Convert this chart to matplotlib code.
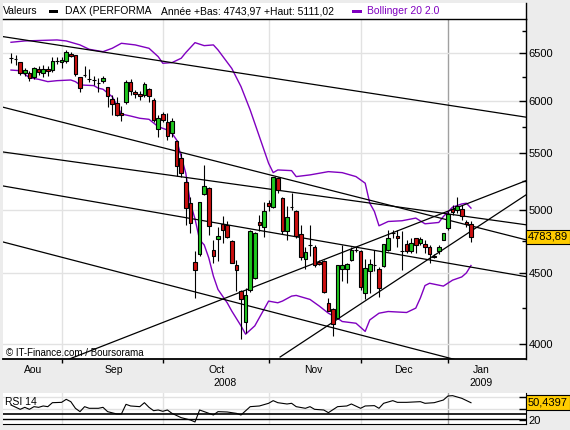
import matplotlib
matplotlib.use("Agg")
import matplotlib.pyplot as plt
from matplotlib.patches import Rectangle
from matplotlib.lines import Line2D
from matplotlib.ticker import NullFormatter
from matplotlib.transforms import blended_transform_factory

plt.rcParams['font.family'] = ['Liberation Sans', 'DejaVu Sans']

# Daily candles, trading day index 0 = 15 Aug 2008 ... 100 = 9 Jan 2009
opens = [6453, 6435, 6403, 6290, 6286, 6244, 6326, 6286, 6334, 6320,
         6417, 6403, 6414, 6496, 6482, 6244, 6265, 6226, 6216, 6188,
         6205, 6141, 6022, 5978, 5880, 5989, 6192, 6094, 6070, 6062,
         6121, 6015, 5725, 5870, 5792, 5687, 5615, 5454, 5240, 5060,
         4588, 4648, 5137, 5188, 4682, 4765, 4889, 4881, 4752, 4567,
         4369, 4150, 4375, 4467, 4903, 4862, 5065, 5027, 5275, 5103,
         4827, 5032, 4991, 4805, 4613, 4720, 4707, 4587, 4597, 4285,
         4238, 4180, 4534, 4534, 4605, 4682, 4669, 4357, 4516, 4567,
         4534, 4559, 4682, 4813, 4792, 4669, 4726, 4674, 4773, 4733,
         4726, 4700, 4635, 4669, 4760, 4854, 5013, 5005, 5011, 4903,
         4889]
highs = [6507, 6482, 6410, 6337, 6308, 6348, 6363, 6374, 6363, 6463,
         6463, 6463, 6536, 6518, 6482, 6248, 6363, 6326, 6255, 6234,
         6255, 6148, 6062, 6045, 5952, 6216, 6226, 6114, 6103, 6199,
         6131, 6029, 5863, 5896, 5880, 5831, 5624, 5500, 5290, 5117,
         4669, 5074, 5397, 5202, 4760, 4867, 4949, 4908, 4760, 4605,
         4381, 4393, 4840, 4820, 4963, 5068, 5088, 5290, 5284, 5110,
         5037, 5145, 4999, 4881, 4707, 4881, 4720, 4600, 4605, 4321,
         4250, 4567, 4720, 4580, 4707, 4707, 4682, 4613, 4613, 4682,
         4549, 4726, 4841, 4841, 4841, 4827, 4760, 4773, 4778, 4781,
         4760, 4720, 4650, 4720, 4813, 4991, 5046, 5111, 5046, 4922,
         4908]
lows = [6392, 6374, 6265, 6255, 6208, 6223, 6265, 6244, 6255, 6301,
        6381, 6337, 6399, 6463, 6255, 6097, 6244, 6199, 6165, 6097,
        6182, 5940, 5863, 5853, 5808, 5972, 6062, 6029, 6015, 6045,
        5996, 5798, 5655, 5798, 5624, 5655, 5294, 5290, 4881, 4813,
        4321, 4635, 5131, 4800, 4580, 4592, 4733, 4773, 4580, 4369,
        4031, 4076, 4365, 4460, 4827, 4780, 4991, 5020, 5145, 4810,
        4760, 5005, 4773, 4605, 4532, 4630, 4549, 4565, 4357, 4226,
        4053, 4170, 4442, 4430, 4592, 4661, 4381, 4309, 4357, 4516,
        4330, 4550, 4669, 4773, 4707, 4529, 4656, 4656, 4656, 4720,
        4656, 4580, 4618, 4650, 4755, 4841, 4963, 4976, 4922, 4862,
        4744]
closes = [6453, 6435, 6286, 6316, 6234, 6337, 6295, 6334, 6313, 6420,
          6417, 6425, 6518, 6474, 6276, 6131, 6265, 6226, 6216, 6188,
          6234, 6055, 5972, 5863, 5860, 6192, 6107, 6073, 6052, 6172,
          6055, 5815, 5831, 5815, 5662, 5805, 5387, 5325, 5016, 4894,
          4524, 5068, 5208, 4873, 4630, 4792, 4835, 4786, 4580, 4529,
          4309, 4340, 4833, 4813, 4881, 4997, 5037, 5290, 5174, 4827,
          4941, 5032, 4792, 4625, 4661, 4720, 4567, 4572, 4361, 4226,
          4134, 4567, 4567, 4572, 4676, 4682, 4401, 4542, 4572, 4567,
          4393, 4726, 4778, 4813, 4773, 4669, 4669, 4733, 4720, 4768,
          4703, 4648, 4628, 4707, 4813, 4968, 4986, 5037, 4957, 4889,
          4783.89]

# Bollinger 20 2.0 bands (day index, level)
bb_up_idx = [0, 3, 10, 12, 15, 17, 20, 22, 24, 27, 30, 32, 33, 35, 37, 38,
             40, 42, 44, 45, 48, 50, 52, 54, 56, 57, 58, 61, 62, 65, 69, 72,
             75, 77, 78, 79, 80, 82, 85, 88, 90, 93, 94, 96, 98, 99, 100]
bb_up_val = [6620, 6635, 6646, 6635, 6591, 6543, 6517, 6554, 6609, 6591,
             6554, 6463, 6392, 6399, 6446, 6507, 6616, 6583, 6591, 6536,
             6337, 6148, 5912, 5655, 5409, 5325, 5349, 5343, 5290, 5305,
             5334, 5325, 5290, 5232, 5060, 4991, 4873, 4908, 4914, 4936,
             4889, 4900, 4949, 5027, 5054, 5060, 5019]
bb_lo_idx = [0, 2, 3, 4, 6, 8, 10, 13, 14, 15, 18, 19, 20, 22, 23, 24, 26,
             28, 30, 32, 34, 35, 36, 37, 38, 39, 40, 41, 42, 43, 44, 45, 47,
             48, 50, 51, 53, 55, 56, 58, 59, 61, 62, 65, 67, 69, 71, 72, 75,
             77, 78, 80, 82, 86, 88, 89, 90, 91, 94, 96, 98, 99, 100]
bb_lo_val = [6320, 6313, 6276, 6240, 6223, 6199, 6209, 6216, 6199, 6165,
             6158, 6131, 6121, 6045, 5962, 5873, 5853, 5831, 5821, 5750,
             5718, 5687, 5624, 5470, 5320, 5060, 4930, 4760, 4720, 4618,
             4480, 4381, 4285, 4226, 4123, 4066, 4123, 4238, 4297, 4285,
             4297, 4333, 4338, 4309, 4262, 4211, 4176, 4153, 4141, 4085,
             4164, 4211, 4223, 4216, 4247, 4320, 4410, 4427, 4406, 4450,
             4474, 4504, 4560]

# Trend lines: start (index, level) -> end (index, level)
tl_x0 = [-1.74, -1.74, -1.74, -1.74, -1.74, 12.17, 58.5]
tl_p0 = [6683, 5940, 5512, 5208, 4743, 3895, 3914]
tl_x1 = [111.96, 111.96, 111.96, 111.96, 111.96, 111.96, 111.96]
tl_p1 = [5842, 4760, 4881, 4476, 3779, 5254, 5131]

# RSI 14
rsi_idx = [0, 2, 3, 4, 5, 6, 7, 8, 9, 11, 12, 13, 14, 15, 16, 17, 19, 20,
           21, 23, 24, 25, 26, 28, 29, 30, 31, 32, 33, 34, 35, 37, 39, 40,
           41, 42, 44, 45, 47, 49, 50, 52, 54, 56, 57, 58, 60, 61, 62, 64,
           65, 66, 68, 69, 71, 73, 74, 76, 77, 79, 80, 81, 83, 84, 86, 89,
           90, 92, 94, 95, 96, 98, 100]
rsi_val = [46.4, 38.8, 42.3, 38.8, 43.5, 42.3, 44.7, 43.5, 50.5, 51.1,
           56.4, 52.3, 40.6, 34.7, 43.5, 40.6, 40.6, 42.3, 34.7, 30.6,
           30.6, 47.6, 44.7, 43.5, 50.5, 42.3, 36.4, 37.6, 35.3, 37.6,
           31.7, 24.1, 20.0, 16.5, 37.6, 34.7, 28.8, 34.7, 34.1, 31.7,
           28.8, 43.5, 44.7, 49.4, 54.1, 50.5, 48.2, 49.4, 43.5, 40.6,
           43.5, 38.8, 37.6, 32.9, 43.5, 44.7, 48.2, 40.6, 44.7, 45.3,
           40.6, 49.4, 54.1, 51.1, 51.1, 52.3, 49.4, 50.5, 55.2, 62.3,
           62.9, 58.2, 50.44]

month_bounds = [11, 33, 56, 76, 95]
month_names = ["Aou", "Sep", "Oct", "Nov", "Dec", "Jan"]
month_pos = [4.8, 22.4, 44.8, 65.7, 85.4, 102.2]
years = ["2008", "2009"]
year_pos = [46.5, 102.2]
price_ticks = [4000, 4500, 5000, 5500, 6000, 6500]
price_minor = [4250, 4750, 5250, 5750, 6250, 6750]

W, H = 570, 430
PURPLE = '#8000c0'
GRID = '#e2e2e2'


def fx(x):
    return x / W


def fy(y):
    return 1 - y / H


def box(x0, y0, x1, y1):
    return [fx(x0), fy(y1), (x1 - x0) / W, (y1 - y0) / H]


fig = plt.figure(figsize=(W / 100, H / 100), dpi=100, facecolor='#ececec')

# header band
fig.add_artist(Rectangle((fx(3), fy(19.3)), 523 / W, 16.3 / H, transform=fig.transFigure,
                         facecolor='white', edgecolor='none', zorder=0))
fig.add_artist(Line2D([fx(526), fx(526)], [fy(3), fy(19.3)], color='black', lw=1))
fig.text(fx(3), fy(11), "Valeurs", va='center', fontsize=7.5)
fig.add_artist(Rectangle((fx(49), fy(13)), 9 / W, 3 / H, transform=fig.transFigure,
                         facecolor='black', edgecolor='none'))
fig.text(fx(65), fy(11), "DAX (PERFORMA", va='center', fontsize=7.5)
fig.text(fx(161), fy(11), "Année +Bas: 4743,97 +Haut: 5111,02", va='center', fontsize=7.5)
fig.add_artist(Rectangle((fx(352), fy(13)), 10 / W, 3 / H, transform=fig.transFigure,
                         facecolor=PURPLE, edgecolor='none'))
fig.text(fx(367), fy(11), "Bollinger 20 2.0", va='center', fontsize=7.5, color=PURPLE)

# main price panel
ax = fig.add_axes(box(3, 19.3, 526, 359))
ax.set_facecolor('white')
ax.set_yscale('log')
ax.set_xlim(-1.74, 111.96)
ax.set_ylim(3901, 6879)

for b in month_bounds:
    ax.axvline(b, color='#a0a0a0' if b == 95 else GRID, lw=1, zorder=0)
for p in price_ticks:
    ax.axhline(p, color=GRID, lw=1, zorder=0)

ax.plot(bb_up_idx, bb_up_val, color=PURPLE, lw=1, zorder=2)
ax.plot(bb_lo_idx, bb_lo_val, color=PURPLE, lw=1, zorder=2)

for x0, p0, x1, p1 in zip(tl_x0, tl_p0, tl_x1, tl_p1):
    ax.plot([x0, x1], [p0, p1], color='black', lw=0.9, zorder=2.5)

idx = list(range(len(opens)))
ax.vlines(idx, lows, highs, color='black', lw=0.8, zorder=3)
bottoms = [min(o, c) for o, c in zip(opens, closes)]
heights = [abs(c - o) for o, c in zip(opens, closes)]
colors = ['#1fc81f' if c > o else ('#cc1010' if c < o else 'black') for o, c in zip(opens, closes)]
ax.bar(idx, heights, bottom=bottoms, width=0.76, color=colors, edgecolor='black',
       linewidth=0.8, zorder=4)

ax.yaxis.tick_right()
ax.set_yticks(price_ticks)
ax.set_yticklabels([str(p) for p in price_ticks])
ax.set_yticks(price_minor, minor=True)
ax.yaxis.set_minor_formatter(NullFormatter())
ax.tick_params(axis='y', which='major', direction='in', length=5, width=1, labelsize=8, pad=2)
ax.tick_params(axis='y', which='minor', direction='in', length=3, width=1)
ax.set_xticks(month_bounds)
ax.set_xticklabels([])
ax.tick_params(axis='x', direction='out', length=3, width=1)

ax.spines['left'].set_visible(False)
ax.spines['top'].set_linewidth(1.0)
ax.spines['bottom'].set_linewidth(1.3)
ax.spines['right'].set_linewidth(1)

trans = blended_transform_factory(ax.transData, fig.transFigure)
for name, pos in zip(month_names, month_pos):
    ax.text(pos, fy(370), name, transform=trans, ha='center', va='center', fontsize=7.5, clip_on=False)
for name, pos in zip(years, year_pos):
    ax.text(pos, fy(383.5), name, transform=trans, ha='center', va='center', fontsize=7.5, clip_on=False)

fig.text(fx(6), fy(353), "© IT-Finance.com / Boursorama", va='center', fontsize=7)

vtrans = blended_transform_factory(ax.transAxes, ax.transData)
ax.text(1.004, closes[-1], "4783,89", transform=vtrans, ha='left', va='center', fontsize=8,
        clip_on=False, zorder=6,
        bbox=dict(boxstyle='square,pad=0.2', facecolor='#ffcc00', edgecolor='black', lw=0.8))

# RSI panel
rsi = fig.add_axes(box(3, 392.7, 526, 424.3))
rsi.set_facecolor('white')
rsi.set_xlim(-1.74, 111.96)
rsi.set_ylim(12.4, 68.1)
for b in month_bounds:
    rsi.axvline(b, color='#a0a0a0' if b == 95 else GRID, lw=1, zorder=0)
for lvl in [40, 60]:
    rsi.axhline(lvl, color=GRID, lw=1, zorder=0)
rsi.axhline(30, color='black', lw=1.2, zorder=1)
rsi.axhline(21, color='black', lw=1, zorder=1)
rsi.plot(rsi_idx, rsi_val, color='black', lw=0.8, zorder=2)
rsi.yaxis.tick_right()
rsi.set_yticks([20, 40, 60])
rsi.set_yticklabels(['20', '', ''])
rsi.tick_params(axis='y', direction='in', length=5, width=1, labelsize=8, pad=2)
rsi.set_xticks([])
rsi.spines['left'].set_visible(False)
rsi.spines['top'].set_visible(False)
rsi.text(0.004, 0.7, "RSI 14", transform=rsi.transAxes, fontsize=7.5, va='center')
rtrans = blended_transform_factory(rsi.transAxes, rsi.transData)
rsi.text(1.004, rsi_val[-1], "50,4397", transform=rtrans, ha='left', va='center', fontsize=8,
         clip_on=False, zorder=6,
         bbox=dict(boxstyle='square,pad=0.2', facecolor='#ffcc00', edgecolor='black', lw=0.8))

fig.savefig("out.png", dpi=100, facecolor=fig.get_facecolor())
